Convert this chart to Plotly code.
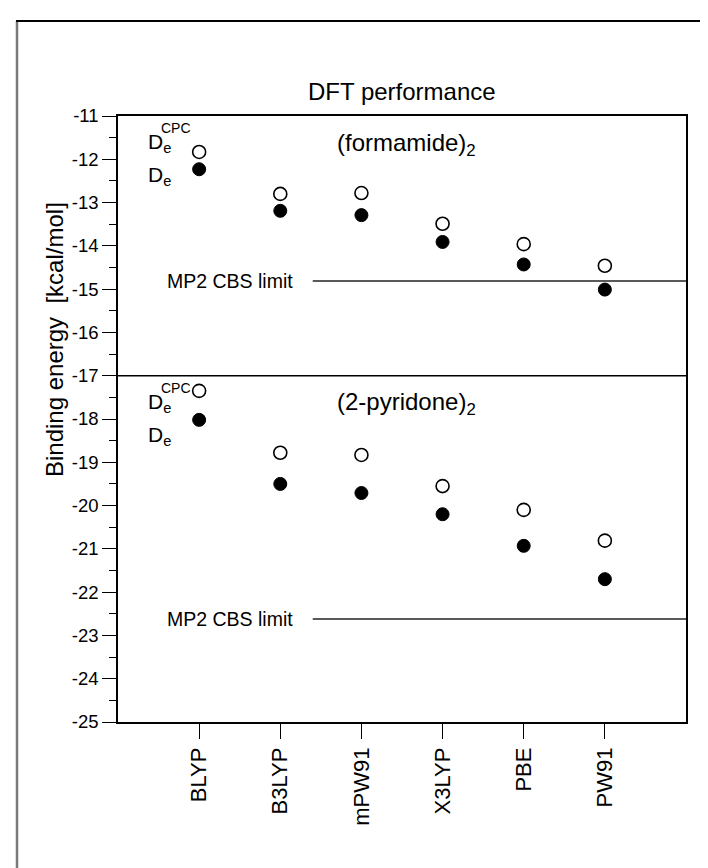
import plotly.graph_objects as go

categories = ["BLYP", "B3LYP", "mPW91", "X3LYP", "PBE", "PW91"]
formamide_cpc = [-11.83, -12.80, -12.78, -13.49, -13.96, -14.46]
formamide_de = [-12.23, -13.19, -13.29, -13.91, -14.43, -15.01]
pyridone_cpc = [-17.35, -18.78, -18.83, -19.55, -20.10, -20.81]
pyridone_de = [-18.02, -19.50, -19.71, -20.20, -20.93, -21.70]
mp2_limits = [-14.81, -22.62]
divider = -17
y_ticks = [-11, -12, -13, -14, -15, -16, -17, -18, -19, -20, -21, -22, -23, -24, -25]
y_ticktext = ["-11", "-12", "-13", "-14", "-15", "-16", "-17", "-18", "-19", "-20",
              "-21", "-22", "-23", "-24", "-25"]

FONT = "Liberation Sans, Arial, Helvetica, sans-serif"
W, H = 708, 868
L, R, T, B = 110, 30, 108, 154


def px_x(px):
    return (px - L) / (W - L - R)


def px_y(py):
    return (H - B - py) / (H - T - B)


fig = go.Figure()
for cpc, de in [(formamide_cpc, formamide_de), (pyridone_cpc, pyridone_de)]:
    fig.add_trace(go.Scatter(x=categories, y=cpc, mode="markers",
                             marker=dict(symbol="circle", size=13, color="white",
                                         line=dict(color="black", width=1.6)),
                             showlegend=False, hoverinfo="skip"))
    fig.add_trace(go.Scatter(x=categories, y=de, mode="markers",
                             marker=dict(symbol="circle", size=13, color="black",
                                         line=dict(color="black", width=1)),
                             showlegend=False, hoverinfo="skip"))

shapes = []
# divider between the two systems
shapes.append(dict(type="line", xref="paper", yref="y", x0=0, x1=1, y0=divider, y1=divider,
                   line=dict(color="black", width=1.5)))
# MP2 CBS limit lines
for v in mp2_limits:
    shapes.append(dict(type="line", xref="x", yref="y", x0=1.40, x1=6, y0=v, y1=v,
                       line=dict(color="#222222", width=1.5)))
# outer frame
shapes.append(dict(type="line", xref="paper", yref="paper", x0=px_x(9), x1=px_x(9),
                   y0=px_y(13), y1=px_y(900), line=dict(color="#7a7a7a", width=2.5)))
shapes.append(dict(type="line", xref="paper", yref="paper", x0=px_x(8), x1=px_x(720),
                   y0=px_y(13), y1=px_y(13), line=dict(color="black", width=2)))

ann = []
ann.append(dict(text="DFT performance", xref="paper", yref="paper", x=px_x(394), y=px_y(84),
                xanchor="center", yanchor="middle", showarrow=False,
                font=dict(size=24, color="black", family=FONT)))
ann.append(dict(text="Binding energy  [kcal/mol]", xref="paper", yref="paper",
                x=px_x(46), y=px_y(332), textangle=-90, xanchor="center", yanchor="middle",
                showarrow=False, font=dict(size=24, color="black", family=FONT)))
for label, yv in [("(formamide)<sub>2</sub>", -11.65), ("(2-pyridone)<sub>2</sub>", -17.65)]:
    ann.append(dict(text=label, xref="x", yref="y", x=1.674, y=yv, xanchor="left",
                    yanchor="middle", showarrow=False,
                    font=dict(size=24, color="black", family=FONT)))
for v in mp2_limits:
    ann.append(dict(text="MP2 CBS limit", xref="x", yref="y", x=1.18, y=v, xanchor="right",
                    yanchor="middle", showarrow=False,
                    font=dict(size=19.5, color="black", family=FONT)))
for dcpc, dde in [(-11.55, -12.32), (-17.55, -18.32)]:
    ann.append(dict(text="D<sub>e</sub>", xref="x", yref="y", x=-0.655, y=dde, xanchor="left",
                    yanchor="middle", showarrow=False, yshift=-3,
                    font=dict(size=21, color="black", family=FONT)))
    ann.append(dict(text="D<sub>e</sub>", xref="x", yref="y", x=-0.655, y=dcpc, xanchor="left",
                    yanchor="middle", showarrow=False, yshift=-3,
                    font=dict(size=21, color="black", family=FONT)))
    ann.append(dict(text="CPC", xref="x", yref="y", x=-0.655, y=dcpc, xanchor="left",
                    yanchor="middle", showarrow=False, xshift=13, yshift=12,
                    font=dict(size=14, color="black", family=FONT)))

fig.update_layout(
    width=W, height=H, autosize=False,
    margin=dict(l=L, r=R, t=T, b=B),
    paper_bgcolor="white", plot_bgcolor="white",
    font=dict(family=FONT, color="black"),
    shapes=shapes, annotations=ann, showlegend=False,
)
fig.update_xaxes(type="category", range=[-1, 6], ticks="outside", ticklen=15, tickwidth=1.2,
                 tickcolor="black", tickangle=-90, tickfont=dict(size=22, family=FONT),
                 showline=True, mirror=True, linecolor="black", linewidth=1.5,
                 showgrid=False, zeroline=False)
fig.update_yaxes(range=[-25, -11], tickvals=y_ticks, ticktext=y_ticktext, ticks="outside",
                 ticklen=14, tickwidth=1.2, tickcolor="black",
                 minor=dict(dtick=0.5, ticks="outside", ticklen=7, tickwidth=1.2,
                            tickcolor="black", showgrid=False),
                 tickfont=dict(size=18.5, family=FONT),
                 showline=True, mirror=True, linecolor="black", linewidth=1.5,
                 showgrid=False, zeroline=False)

fig.write_html("out.html")
